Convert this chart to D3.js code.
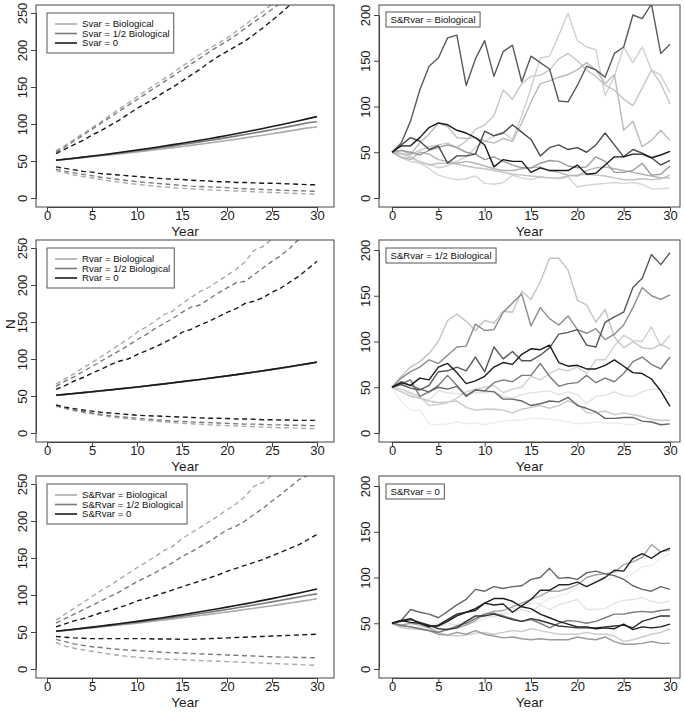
<!DOCTYPE html>
<html><head><meta charset="utf-8">
<script src="https://cdn.jsdelivr.net/npm/d3@7"></script>
<style>
html,body{margin:0;padding:0;background:#fff;}
svg{display:block;font-family:"Liberation Sans",Arial,sans-serif;}
</style></head>
<body>
<svg id="chart" width="685" height="712"></svg>
<script>
// ---------- data ----------
const yearsQ = [1,2,3,4,5,6,7,8,9,10,11,12,13,14,15,16,17,18,19,20,21,22,23,24,25,26,27,28,29,30];
const yearsSim = [0,1,2,3,4,5,6,7,8,9,10,11,12,13,14,15,16,17,18,19,20,21,22,23,24,25,26,27,28,29,30];
const xTicks = [0,5,10,15,20,25,30];
const yTicksLeft = [0,50,100,150,200,250];
const yTicksRight = [0,50,100,150,200];

// Panel 1: Svar
const svarLegend = ["Svar = Biological","Svar = 1/2 Biological","Svar = 0"];
const svarMeanBio  = [51,52.1,53.3,54.5,55.7,57,58.3,59.6,60.9,62.3,63.7,65.1,66.6,68.1,69.6,71.1,72.7,74.3,76,77.7,79.4,81.2,83,84.9,86.8,88.7,90.7,92.7,94.8,96];
const svarMeanHalf = [51,52.3,53.6,55,56.4,57.8,59.2,60.7,62.2,63.8,65.4,67,68.7,70.4,72.2,74,75.8,77.7,79.6,81.6,83.6,85.7,87.8,90,92.2,94.5,96.8,99.2,101.6,103];
const svarMean0    = [51,52.4,53.8,55.2,56.7,58.2,59.8,61.4,63.1,64.8,66.5,68.3,70.2,72.1,74,76,78,80.1,82.3,84.5,86.8,89.1,91.5,94,96.5,99.1,101.8,104.5,107.3,110];
const svarUpBio  = [64,71,79,87,95,103,112,120,128,137,145,153,161,169,178,186,194,202,209,216,225,234,243,252,262,272,282,292,302,312];
const svarUpHalf = [62,69,77,85,93,101,109,117,125,133,141,149,157,165,173,181,189,197,205,212,220,229,238,246,255,264,273,282,291,300];
const svarUp0    = [60,66,72,78,85,91,98,105,113,121,128,135,143,150,158,166,174,183,191,198,205,212,221,230,240,250,261,272,283,295];
const svarLoBio  = [37,34,31,29,27,25,23,21.5,20,18.5,17,16,15,14,13,12.5,12,11,10.5,10,9.5,9,8.5,8,7.5,7,6.5,6,5.5,5];
const svarLoHalf = [39,36,34,32,30,28,26.5,25,23.5,22,21,20,19,18,17,16,15.5,15,14.5,14,13,12.5,12,11.5,11,10.5,10,10,9.5,9];
const svarLo0    = [42,40,38,36,35,33,32,31,30,29,28,27,26,25.5,25,24,23.5,23,22,22,21,21,20.5,20,20,19.5,19,18.5,18,18];

// Panel 3: Rvar
const rvarLegend = ["Rvar = Biological","Rvar = 1/2 Biological","Rvar = 0"];
const rvarMeanBio  = [51,52,53.2,54.4,55.6,56.8,58.1,59.4,60.7,62,63.4,64.8,66.2,67.7,69.2,70.7,72.2,73.8,75.4,77,78.6,80.3,82,83.8,85.6,87.5,89.4,91.4,93.4,95.5];
const rvarMeanHalf = [51,52.1,53.3,54.5,55.7,56.9,58.2,59.5,60.8,62.1,63.5,64.9,66.3,67.8,69.3,70.8,72.3,73.9,75.5,77.1,78.8,80.5,82.2,84,85.8,87.7,89.6,91.6,93.6,95.7];
const rvarMean0    = [51,52.2,53.4,54.6,55.8,57,58.3,59.6,60.9,62.2,63.6,65,66.4,67.9,69.4,70.9,72.4,74,75.6,77.2,78.9,80.6,82.4,84.2,86,87.9,89.8,91.8,93.8,96];
const rvarUpBio  = [66,73,80,88,95,103,111,119,127,136,143,151,160,165,175,183,191,197,205,213,221,231,247,252,262,273,284,293,305,317];
const rvarUpHalf = [63,70,76,83,90,97,104,111,118,126,133,141,148,155,163,170,173,181,189,196,203,205,214,223,232,240,250,262,273,284];
const rvarUp0    = [59,64,70,75,81,86,92,97,100,106,111,116,122,128,136,140,146,151,157,163,168,175,178,183,190,196,204,212,222,232];
const rvarLoBio  = [36,33,30,28,26,24,22,20.5,19,18,17,16,15,14,13,12.5,12,11,10.5,10,9.5,9,8.5,8,7.5,7,7,6.5,6,6];
const rvarLoHalf = [37,34,31,29,27,25,23.5,22,21,20,19,18,17,16,15.5,15,14.5,14,13.5,13,12.5,12,12,11.5,11,11,10.5,10.5,10,10];
const rvarLo0    = [38,35,33,31,29.5,28,27,26,25,24,23.5,23,22.5,22,21.5,21,20.5,20,20,19.5,19,19,18.5,18,18,17.5,17.5,17,17,17];

// Panel 5: S&Rvar
const srLegend = ["S&Rvar = Biological","S&Rvar = 1/2 Biological","S&Rvar = 0"];
const srMeanBio  = [51,52,53.2,54.4,55.6,56.8,58.1,59.4,60.7,62,63.4,64.8,66.2,67.7,69.2,70.7,72.2,73.8,75.4,77,78.6,80.3,82,83.7,85.5,87.3,89.1,91,93,95];
const srMeanHalf = [51,52.2,53.5,54.8,56.1,57.5,58.9,60.3,61.8,63.3,64.8,66.4,68,69.7,71.4,73.1,74.9,76.7,78.6,80.5,82.5,84.5,86.5,88.6,90.7,92.9,95.1,97.4,99.7,101.5];
const srMean0    = [51,52.4,53.8,55.2,56.6,58.1,59.6,61.2,62.8,64.4,66.1,67.9,69.7,71.5,73.4,75.3,77.3,79.3,81.4,83.6,85.8,88,90.3,92.7,95.1,97.6,100.2,102.8,105.4,108];
const srUpBio  = [66,74,82,90,98,106,113,121,129,137,144,152,160,166,176,184,191,199,207,215,223,233,247,252,262,272,283,294,305,316];
const srUpHalf = [62,68,74,80,86,92,98,104,111,118,124,130,137,144,152,158,165,172,180,188,193,200,209,217,227,236,246,256,262,272];
const srUp0    = [57,61,65,68,72,76,79,83,87,92,95,99,103,107,111,115,119,123,127,132,136,140,144,148,153,158,163,168,175,182];
const srLoBio  = [36,31,28,26,24,22,20,18.5,17,16,15,14,13.5,13,12.5,12,11.5,11,10.5,10,9.5,9,8.5,8,7.5,7,6.5,6,5.5,5];
const srLoHalf = [40,37,34,32,30,29,27.5,26.5,25.5,25,24,23.5,22.5,22,21.5,21,20.5,20,19.5,19,18.5,18,17.5,17,16.5,16,16,15.5,15.5,15];
const srLo0    = [44,43,42,41.5,41,41,41,41,41,41,41,40.5,40.5,40.5,40,40,40.5,41,41.5,42,42.5,43,43.5,44,44.5,45,45.5,46,46.5,47];

// Panel 2: S&Rvar = Biological simulations
const bioLabel = "S&Rvar = Biological";
const bioSims = [
  [50,44,44,38,32,25,22,20,21,24,16,15,17,25,22,20,23,22,21,23,12,14,15,16,17,16,17,15,10,10,11],
  [50,44,40,38,37,33,35,40,45,55,62,68,72,64,90,120,153,155,178,202,172,165,162,112,133,165,148,165,140,134,115],
  [50,49,47,52,56,58,60,55,62,75,80,90,118,108,125,133,134,140,152,158,150,140,133,123,118,108,101,120,140,125,103],
  [50,48,45,40,36,38,38,37,35,33,32,30,28,26,25,24,23,22,22,24,25,26,25,24,22,20,20,21,20,21,25],
  [50,52,48,60,70,82,78,66,65,66,62,60,65,62,82,105,125,128,132,135,140,148,140,125,135,74,84,56,63,74,63],
  [50,45,42,50,48,42,40,38,40,38,35,32,30,30,32,33,34,30,28,25,24,30,33,34,32,30,28,26,24,22,22],
  [50,52,50,47,52,55,58,55,50,48,42,45,40,36,33,33,38,41,40,35,33,34,45,40,28,28,30,38,25,26,35],
  [50,60,84,118,144,153,175,178,123,152,172,133,160,167,127,155,148,141,106,105,123,144,140,132,158,165,200,196,212,158,168],
  [50,58,66,62,53,57,38,46,46,48,73,68,71,80,72,64,46,55,58,53,55,50,58,71,58,45,53,49,44,36,41],
  [50,57,57,66,77,82,80,74,71,66,58,34,42,40,40,28,33,30,30,30,36,26,27,36,45,45,48,48,44,47,51]
];
const bioColors = ["#d6d6d6","#d0d0d0","#c6c6c6","#c2c2c2","#bababa","#b4b4b4","#9a9a9a","#5a5a5a","#4a4a4a","#1a1a1a"];

// Panel 4: S&Rvar = 1/2 Biological simulations
const halfLabel = "S&Rvar = 1/2 Biological";
const halfSims = [
  [50,35,25,25,10,9,10,12,10,11,9,11,13,14,14,16,16,15,14,12,10,11,12,11,11,10,9,11,13,14,14],
  [50,48,42,38,36,46,44,43,42,44,44,46,40,38,42,44,45,46,42,45,42,32,40,41,45,41,40,45,48,48,43],
  [50,45,40,38,35,33,34,35,28,25,26,26,25,22,26,28,30,27,30,35,32,22,22,24,20,22,20,18,15,14,14],
  [50,48,44,40,30,31,33,38,45,48,50,52,44,48,50,62,58,65,70,68,72,65,80,80,95,107,101,100,116,95,107],
  [50,62,72,78,87,100,123,130,122,112,123,120,133,132,155,146,165,191,191,178,145,140,121,135,105,93,100,93,92,97,92],
  [50,60,67,72,80,76,85,94,95,119,112,113,132,142,152,117,137,125,118,128,113,109,114,102,108,118,137,159,150,146,151],
  [50,54,58,40,45,52,63,52,41,47,46,55,58,56,63,63,76,62,51,54,55,63,55,60,56,65,78,83,75,70,83],
  [50,56,52,48,45,50,48,51,40,47,46,45,37,37,35,30,32,35,34,39,30,27,23,16,16,17,17,13,12,9,10],
  [50,53,49,47,52,67,68,72,68,83,67,94,81,89,79,79,85,93,108,110,113,96,94,121,127,132,159,169,195,184,197],
  [50,55,52,60,58,72,76,66,54,57,62,72,77,75,86,92,91,96,77,73,74,70,70,74,80,73,66,65,59,46,29]
];
const halfColors = ["#ededed","#e2e2e2","#c8c8c8","#d0d0d0","#c4c4c4","#8c8c8c","#7a7a7a","#666666","#575757","#1a1a1a"];

// Panel 6: S&Rvar = 0 simulations
const zeroLabel = "S&Rvar = 0";
const zeroSims = [
  [50,46,44,47,48,50,47,49,48,51,55,58,61,66,67,72,71,77,80,83,89,91,97,96,101,100,104,112,113,121,126],
  [50,46,47,45,44,46,50,48,52,55,58,57,60,62,65,62,70,65,70,73,76,65,65,66,72,75,76,78,74,72,74],
  [50,45,44,43,42,40,37,36,37,39,40,38,40,42,41,44,42,40,38,38,38,40,38,38,36,30,32,35,38,40,44],
  [50,48,50,48,45,40,44,45,48,53,60,63,64,68,72,76,80,85,85,88,92,100,103,104,106,114,117,122,136,128,130],
  [50,47,46,44,42,38,37,40,38,42,38,36,34,35,33,32,33,32,32,32,35,33,32,35,30,27,27,28,30,28,28],
  [50,48,46,44,42,40,43,47,50,55,60,61,58,55,52,54,50,45,50,53,52,50,52,56,60,60,62,63,62,64,65],
  [50,53,65,62,60,56,63,70,76,87,85,90,88,90,91,98,100,110,99,100,98,105,107,104,102,98,91,87,85,90,87],
  [50,52,54,51,48,44,43,45,52,58,58,60,57,54,52,55,53,50,47,46,45,45,45,46,47,48,45,52,55,58,58],
  [50,53,51,50,47,47,52,58,62,66,72,77,77,74,68,66,60,56,52,49,46,46,44,45,44,49,43,46,45,46,49],
  [50,53,55,50,46,48,54,60,62,64,72,70,71,62,69,76,86,86,92,92,95,90,95,100,108,107,121,126,121,128,132]
];
const zeroColors = ["#eeeeee","#e4e4e4","#cccccc","#a4a4a4","#9a9a9a","#7c7c7c","#666666","#333333","#1c1c1c","#222222"];

const legendColors = ["#ababab","#7a7a7a","#1a1a1a"];

// ---------- drawing ----------
const svg = d3.select("#chart");
const rowOff = [0, 235, 471];
const colGeom = [
  {boxL:36, boxR:334, x0:47, x1:317},
  {boxL:379, boxR:680, x0:392, x1:670}
];
const FONT = '"Liberation Sans",Arial,sans-serif';
let clipId = 0;

function frame(col, row, yMax, yTop) {
  const g = colGeom[col], oy = rowOff[row];
  const box = {l:g.boxL, r:g.boxR, t:oy+5, b:oy+207};
  const x = d3.scaleLinear().domain([0,30]).range([g.x0, g.x1]);
  const y = d3.scaleLinear().domain([0,yMax]).range([oy+198, oy+yTop]);
  const id = "clip" + (clipId++);
  svg.append("clipPath").attr("id", id).append("rect")
    .attr("x", box.l).attr("y", box.t).attr("width", box.r-box.l).attr("height", box.b-box.t);
  const plot = svg.append("g").attr("clip-path", `url(#${id})`);
  return {x, y, box, plot, oy};
}

function axes(f, yTicks) {
  const {x, y, box} = f;
  const ax = svg.append("g").attr("transform", `translate(0,${box.b})`)
    .call(d3.axisBottom(x).tickValues(xTicks).tickSize(5).tickSizeOuter(0));
  ax.select(".domain").attr("stroke", "#444");
  ax.selectAll(".tick line").attr("stroke", "#444");
  ax.selectAll(".tick text").attr("y", 13).attr("dy", null)
    .attr("font-size", 13).attr("fill", "#1a1a1a").attr("font-family", FONT);
  const ay = svg.append("g").attr("transform", `translate(${box.l},0)`)
    .call(d3.axisLeft(y).tickValues(yTicks).tickSize(5).tickSizeOuter(0));
  ay.select(".domain").attr("stroke", "#444");
  ay.selectAll(".tick line").attr("stroke", "#444");
  ay.selectAll(".tick text").attr("transform", "rotate(-90)")
    .attr("x", 0).attr("y", -9).attr("dy", null)
    .attr("text-anchor", "middle").attr("font-size", 13).attr("fill", "#1a1a1a")
    .attr("font-family", FONT);
  svg.append("rect").attr("x", box.l).attr("y", box.t)
    .attr("width", box.r-box.l).attr("height", box.b-box.t)
    .attr("fill", "none").attr("stroke", "#444").attr("stroke-width", 1);
  svg.append("text").attr("x", (box.l+box.r)/2).attr("y", box.b+29)
    .attr("text-anchor", "middle").attr("font-size", 13.5).attr("fill", "#1a1a1a").text("Year");
}

function leftPanel(row, legendText, means, ups, los) {
  const f = frame(0, row, 250, 13);
  const line = d3.line().x((d,i) => f.x(yearsQ[i])).y(d => f.y(d));
  [0,1,2].forEach(k => {
    f.plot.append("path").datum(ups[k]).attr("d", line).attr("fill","none")
      .attr("stroke", legendColors[k]).attr("stroke-width", 1.4).attr("stroke-dasharray", "5,3.5");
    f.plot.append("path").datum(los[k]).attr("d", line).attr("fill","none")
      .attr("stroke", legendColors[k]).attr("stroke-width", 1.4).attr("stroke-dasharray", "5,3.5");
  });
  [0,1,2].forEach(k => {
    f.plot.append("path").datum(means[k]).attr("d", line).attr("fill","none")
      .attr("stroke", legendColors[k]).attr("stroke-width", 1.6);
  });
  axes(f, yTicksLeft);
  const lx = 47, ly = f.oy + 13;
  const lg = svg.append("g");
  const rect = lg.append("rect").attr("x", lx).attr("y", ly).attr("height", 40)
    .attr("fill", "#fff").attr("stroke", "#555").attr("stroke-width", 1);
  let maxW = 0;
  legendText.forEach((t, k) => {
    const cy = ly + 11 + k*9.5;
    lg.append("line").attr("x1", lx+8).attr("x2", lx+30).attr("y1", cy).attr("y2", cy)
      .attr("stroke", legendColors[k]).attr("stroke-width", 1.6);
    const tx = lg.append("text").attr("x", lx+35).attr("y", cy+3.4)
      .attr("font-size", 9.6).attr("fill", "#111").text(t);
    maxW = Math.max(maxW, tx.node().getComputedTextLength());
  });
  rect.attr("width", 35 + maxW + 4);
  return f;
}

function rightPanel(row, label, sims, colors) {
  const f = frame(1, row, 200, 15);
  const line = d3.line().x((d,i) => f.x(yearsSim[i])).y(d => f.y(d));
  sims.forEach((s, k) => {
    f.plot.append("path").datum(s).attr("d", line).attr("fill","none")
      .attr("stroke", colors[k]).attr("stroke-width", 1.4).attr("stroke-linejoin","round");
  });
  axes(f, yTicksRight);
  const lx = 386, ly = f.oy + 12 + (row>0?1:0);
  const lg = svg.append("g");
  const rect = lg.append("rect").attr("x", lx).attr("y", ly).attr("height", 15)
    .attr("fill", "#fff").attr("stroke", "#555").attr("stroke-width", 1);
  const tx = lg.append("text").attr("x", lx+4.5).attr("y", ly+11)
    .attr("font-size", 9.6).attr("fill", "#111").text(label);
  rect.attr("width", tx.node().getComputedTextLength() + 9);
  return f;
}

leftPanel(0, svarLegend, [svarMeanBio, svarMeanHalf, svarMean0], [svarUpBio, svarUpHalf, svarUp0], [svarLoBio, svarLoHalf, svarLo0]);
leftPanel(1, rvarLegend, [rvarMeanBio, rvarMeanHalf, rvarMean0], [rvarUpBio, rvarUpHalf, rvarUp0], [rvarLoBio, rvarLoHalf, rvarLo0]);
leftPanel(2, srLegend, [srMeanBio, srMeanHalf, srMean0], [srUpBio, srUpHalf, srUp0], [srLoBio, srLoHalf, srLo0]);
rightPanel(0, bioLabel, bioSims, bioColors);
rightPanel(1, halfLabel, halfSims, halfColors);
rightPanel(2, zeroLabel, zeroSims, zeroColors);

svg.append("text").attr("transform", "translate(15,324) rotate(-90)")
  .attr("text-anchor", "middle").attr("font-size", 13.5).attr("fill", "#1a1a1a").text("N");
</script>
</body></html>
